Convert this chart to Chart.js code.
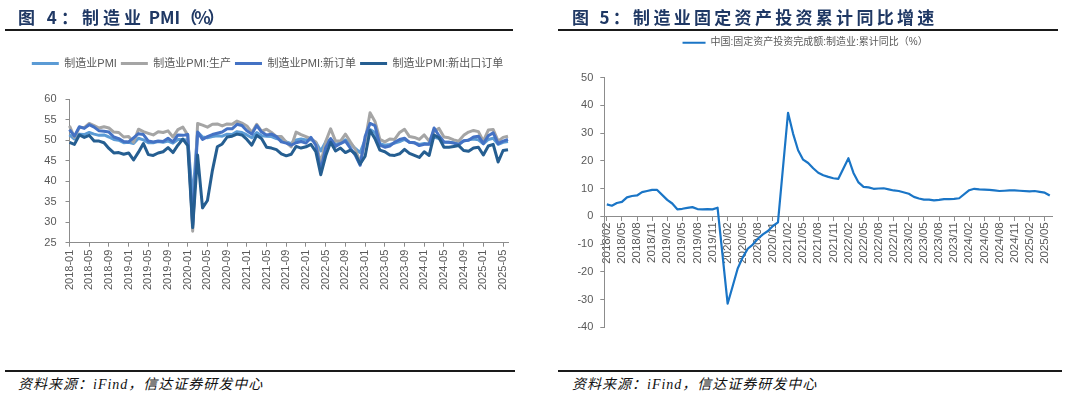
<!DOCTYPE html>
<html><head><meta charset="utf-8">
<script src="https://cdn.jsdelivr.net/npm/chart.js@4.4.1/dist/chart.umd.min.js"></script>
<style>
html,body{margin:0;padding:0;background:#fff;}
body{width:1091px;height:397px;position:relative;overflow:hidden;font-family:"Liberation Sans","Noto Sans CJK SC",sans-serif;}
canvas{position:absolute;top:0;}
.title{position:absolute;top:7px;font-family:"Noto Sans CJK SC",sans-serif;font-weight:bold;font-size:17px;line-height:20px;color:#1f3864;white-space:nowrap;}
.sp{letter-spacing:4px;}
.paren{letter-spacing:-3px;}
.rule{position:absolute;height:2px;background:#1a1a1a;}
.src{position:absolute;top:376px;font-family:"Liberation Serif","Noto Sans CJK SC",serif;font-style:italic;font-size:14px;line-height:18px;color:#111;white-space:nowrap;letter-spacing:1px;}
</style></head>
<body>
<canvas id="c1" width="545" height="345" style="left:0"></canvas>
<canvas id="c2" width="546" height="345" style="left:545px"></canvas>
<div class="title" style="left:18px"><span class="sp">图 4：制造业</span> PMI<span class="paren">（%）</span></div>
<div class="rule" style="left:5px;width:508px;top:29px"></div>
<div class="title" style="left:572px;letter-spacing:3.3px">图 5：制造业固定资产投资累计同比增速</div>
<div class="rule" style="left:558px;width:500px;top:29px"></div>
<div class="rule" style="left:5px;width:510px;top:370px"></div>
<div class="src" style="left:18px">资料来源：iFind，信达证券研发中心</div>
<div class="rule" style="left:558px;width:504px;top:370px"></div>
<div class="src" style="left:572px">资料来源：iFind，信达证券研发中心</div>
<script>
// ---------- Figure 4: PMI ----------
const pmiMonths = [
'2018-01','2018-02','2018-03','2018-04','2018-05','2018-06','2018-07','2018-08','2018-09','2018-10','2018-11','2018-12',
'2019-01','2019-02','2019-03','2019-04','2019-05','2019-06','2019-07','2019-08','2019-09','2019-10','2019-11','2019-12',
'2020-01','2020-02','2020-03','2020-04','2020-05','2020-06','2020-07','2020-08','2020-09','2020-10','2020-11','2020-12',
'2021-01','2021-02','2021-03','2021-04','2021-05','2021-06','2021-07','2021-08','2021-09','2021-10','2021-11','2021-12',
'2022-01','2022-02','2022-03','2022-04','2022-05','2022-06','2022-07','2022-08','2022-09','2022-10','2022-11','2022-12',
'2023-01','2023-02','2023-03','2023-04','2023-05','2023-06','2023-07','2023-08','2023-09','2023-10','2023-11','2023-12',
'2024-01','2024-02','2024-03','2024-04','2024-05','2024-06','2024-07','2024-08','2024-09','2024-10','2024-11','2024-12',
'2025-01','2025-02','2025-03','2025-04','2025-05','2025-06'];
const pmiNames = ['制造业PMI','制造业PMI:生产','制造业PMI:新订单','制造业PMI:新出口订单'];
const pmiTotal = [
51.3,50.3,51.5,51.4,51.9,51.5,51.2,51.3,50.8,50.2,50.0,49.4,
49.5,49.2,50.5,50.1,49.4,49.4,49.7,49.5,49.8,49.3,50.2,50.2,
50.0,35.7,52.0,50.8,50.6,50.9,51.1,51.0,51.5,51.4,52.1,51.9,
51.3,50.6,51.9,51.1,51.0,50.9,50.4,50.1,49.6,49.2,50.1,50.3,
50.1,50.2,49.5,47.4,49.6,50.2,49.0,49.4,50.1,49.2,48.0,47.0,
50.1,52.6,51.9,49.2,48.8,49.0,49.3,49.7,50.2,49.5,49.4,49.0,
49.2,49.1,50.8,50.4,49.5,49.5,49.4,49.1,49.8,50.1,50.3,50.1,
49.1,50.2,50.5,49.0,49.5,49.7];
const pmiProduction = [
53.5,50.7,53.1,53.1,54.1,53.6,53.0,53.3,53.0,52.0,51.9,50.8,
50.9,49.5,52.7,52.1,51.7,51.3,52.1,51.9,52.3,50.8,52.6,53.2,
51.3,27.8,54.1,53.7,53.2,53.9,54.0,53.5,54.0,53.9,54.7,54.2,
53.5,51.9,53.9,52.2,52.7,51.9,50.9,50.9,49.5,48.4,52.0,51.4,
50.9,50.4,49.5,44.4,49.7,52.8,49.8,49.8,51.5,49.6,47.8,44.6,
49.8,56.7,54.6,50.2,49.6,50.3,50.2,51.9,52.7,50.9,50.7,50.2,
51.3,49.8,52.2,52.9,50.8,50.6,50.1,49.8,51.2,52.0,52.4,52.1,
49.8,52.5,52.6,49.8,50.7,51.0];
const pmiNewOrders = [
52.6,51.0,53.3,52.9,53.8,53.2,52.3,52.2,52.0,50.8,50.4,49.7,
49.6,50.6,51.6,51.4,49.8,49.6,49.8,49.7,50.5,49.6,51.3,51.2,
51.4,29.3,52.0,50.2,50.9,51.4,51.7,52.0,52.8,52.8,53.9,53.6,
52.3,51.5,53.6,52.0,51.3,51.5,50.9,49.6,49.3,48.8,49.4,49.7,
49.3,50.7,48.8,42.6,48.2,50.4,48.5,49.2,49.8,48.1,46.4,43.9,
50.9,54.1,53.6,48.8,48.3,48.6,49.5,50.2,50.5,49.5,49.4,48.7,
49.0,49.0,53.0,51.1,49.6,49.5,49.3,48.9,49.9,50.0,50.8,51.0,
49.2,51.1,51.8,49.2,49.8,50.2];
const pmiExportOrders = [
49.5,49.0,51.3,50.7,51.2,49.8,49.8,49.4,48.0,46.9,47.0,46.6,
46.9,45.2,47.1,49.2,46.5,46.3,46.9,47.2,48.2,47.0,48.8,50.3,
48.7,28.7,46.4,33.5,35.3,42.6,48.4,49.1,50.8,51.0,51.5,51.3,
50.2,48.8,51.2,50.4,48.3,48.1,47.7,46.7,46.2,46.6,48.5,48.1,
48.4,49.0,47.2,41.6,46.2,49.5,47.4,48.1,47.0,47.6,46.7,44.2,
46.1,52.4,50.4,47.6,47.2,46.4,46.3,46.7,47.8,46.8,46.3,45.8,
47.2,46.3,51.3,50.6,48.3,48.3,48.5,48.7,47.5,47.3,48.1,48.3,
46.4,48.6,49.0,44.7,47.5,47.7];
const pmiYTicks = [25,30,35,40,45,50,55,60];

// ---------- Figure 5: manufacturing FAI cumulative yoy ----------
const faiMonths = [
'2018/02','2018/03','2018/04','2018/05','2018/06','2018/07','2018/08','2018/09','2018/10','2018/11','2018/12',
'2019/01','2019/02','2019/03','2019/04','2019/05','2019/06','2019/07','2019/08','2019/09','2019/10','2019/11','2019/12',
'2020/01','2020/02','2020/03','2020/04','2020/05','2020/06','2020/07','2020/08','2020/09','2020/10','2020/11','2020/12',
'2021/01','2021/02','2021/03','2021/04','2021/05','2021/06','2021/07','2021/08','2021/09','2021/10','2021/11','2021/12',
'2022/01','2022/02','2022/03','2022/04','2022/05','2022/06','2022/07','2022/08','2022/09','2022/10','2022/11','2022/12',
'2023/01','2023/02','2023/03','2023/04','2023/05','2023/06','2023/07','2023/08','2023/09','2023/10','2023/11','2023/12',
'2024/01','2024/02','2024/03','2024/04','2024/05','2024/06','2024/07','2024/08','2024/09','2024/10','2024/11','2024/12',
'2025/01','2025/02','2025/03','2025/04','2025/05','2025/06'];
const faiName = '中国:固定资产投资完成额:制造业:累计同比（%）';
const faiYoY = [
4.3,3.8,4.8,5.2,6.8,7.3,7.5,8.7,9.1,9.5,9.5,
null,5.9,4.6,2.5,2.7,3.0,3.3,2.6,2.5,2.6,2.5,3.1,
null,-31.5,-25.2,-18.8,-14.8,-11.7,-10.2,-8.1,-6.5,-5.3,-3.5,-2.2,
null,37.3,29.8,23.8,20.4,19.2,17.3,15.7,14.8,14.2,13.7,13.5,
null,20.9,15.6,12.2,10.6,10.4,9.9,10.0,10.1,9.7,9.3,9.1,
null,8.1,7.0,6.4,6.0,6.0,5.7,5.9,6.2,6.2,6.3,6.5,
null,9.4,9.9,9.7,9.6,9.5,9.3,9.1,9.2,9.3,9.3,9.2,
null,9.0,9.1,8.8,8.5,7.5];
const faiYTicks = [-40,-30,-20,-10,0,10,20,30,40,50];

// ---------- rendering ----------
Chart.defaults.font.family = '"Liberation Sans","Noto Sans CJK SC",sans-serif';
Chart.defaults.color = '#595959';
const AXIS = '#8c8c8c';

function legendHeightPlugin(h){
  return {id:'legendHeight', beforeLayout(chart){
    const lg = chart.legend;
    if (lg && !lg._fixedH){ const f = lg.fit; lg.fit = function(){ f.call(this); this.height = h; }; lg._fixedH = true; }
  }};
}
function lineLegendLabels(chart){
  return Chart.defaults.plugins.legend.labels.generateLabels(chart)
    .map(l => Object.assign(l, {fillStyle: l.strokeStyle, lineWidth: 0}));
}

const pmiColors = ['#5B9BD5','#A5A5A5','#4472C4','#255E91'];
const pmiSeries = [pmiTotal, pmiProduction, pmiNewOrders, pmiExportOrders];
new Chart(document.getElementById('c1'), {
  type: 'line',
  data: {
    labels: pmiMonths,
    datasets: pmiSeries.map((d, i) => ({
      label: pmiNames[i], data: d,
      borderColor: pmiColors[i], backgroundColor: pmiColors[i],
      borderWidth: 3, pointRadius: 0, tension: 0, borderJoinStyle: 'round',
      order: 4 - i
    }))
  },
  options: {
    responsive: false, animation: false,
    layout: {padding: {top: 54, left: 27, right: 37, bottom: 0}},
    plugins: {
      tooltip: {enabled: false},
      legend: {
        position: 'top',
        labels: {boxWidth: 27, boxHeight: 3, padding: 4, font: {size: 11}, color: '#595959',
          generateLabels: lineLegendLabels, sort: (a, b) => a.datasetIndex - b.datasetIndex}
      }
    },
    scales: {
      x: {
        offset: false,
        grid: {drawOnChartArea: false, drawTicks: true, tickLength: 4, color: AXIS},
        border: {color: AXIS, width: 1},
        ticks: {autoSkip: false, minRotation: 90, maxRotation: 90, padding: 3, font: {size: 11}, color: '#595959',
          callback: function(v, i){ return i % 4 === 0 ? this.getLabelForValue(v) : null; }},
        afterFit: s => { s.height = 102.3; }
      },
      y: {
        min: pmiYTicks[0], max: pmiYTicks[pmiYTicks.length - 1],
        afterBuildTicks: s => { s.ticks = pmiYTicks.map(v => ({value: v})); },
        grid: {drawOnChartArea: false, drawTicks: true, tickLength: 4, color: AXIS},
        border: {color: AXIS, width: 1},
        ticks: {padding: 9, font: {size: 11}, color: '#595959'},
        afterFit: s => { s.width = 42.5; }
      }
    }
  },
  plugins: [legendHeightPlugin(45.3)]
});

new Chart(document.getElementById('c2'), {
  type: 'line',
  data: {
    labels: faiMonths,
    datasets: [{
      label: faiName, data: faiYoY, spanGaps: true,
      borderColor: '#1a75c6', backgroundColor: '#1a75c6',
      borderWidth: 2.2, pointRadius: 0, tension: 0, borderJoinStyle: 'round'
    }]
  },
  options: {
    responsive: false, animation: false,
    layout: {padding: {top: 33.7, left: 13, right: 38.7, bottom: 17.7}},
    plugins: {
      tooltip: {enabled: false},
      legend: {
        position: 'top',
        labels: {boxWidth: 23, boxHeight: 2, padding: 4, font: {size: 10}, color: '#595959',
          generateLabels: lineLegendLabels}
      }
    },
    scales: {
      x: {
        offset: true,
        position: {y: 0},
        grid: {drawOnChartArea: false, drawTicks: true, tickLength: 4, color: AXIS, offset: false},
        border: {color: AXIS, width: 1},
        ticks: {autoSkip: false, minRotation: 90, maxRotation: 90, padding: 2, font: {size: 11.5}, color: '#595959',
          callback: function(v, i){ return i % 3 === 0 ? this.getLabelForValue(v) : null; }}
      },
      y: {
        min: faiYTicks[0], max: faiYTicks[faiYTicks.length - 1],
        afterBuildTicks: s => { s.ticks = faiYTicks.map(v => ({value: v})); },
        grid: {drawOnChartArea: false, drawTicks: true, tickLength: 4, color: AXIS},
        border: {color: AXIS, width: 1},
        ticks: {padding: 7, font: {size: 11}, color: '#595959'},
        afterFit: s => { s.width = 46.3; }
      }
    }
  },
  plugins: [legendHeightPlugin(43.8)]
});
</script>
</body></html>
